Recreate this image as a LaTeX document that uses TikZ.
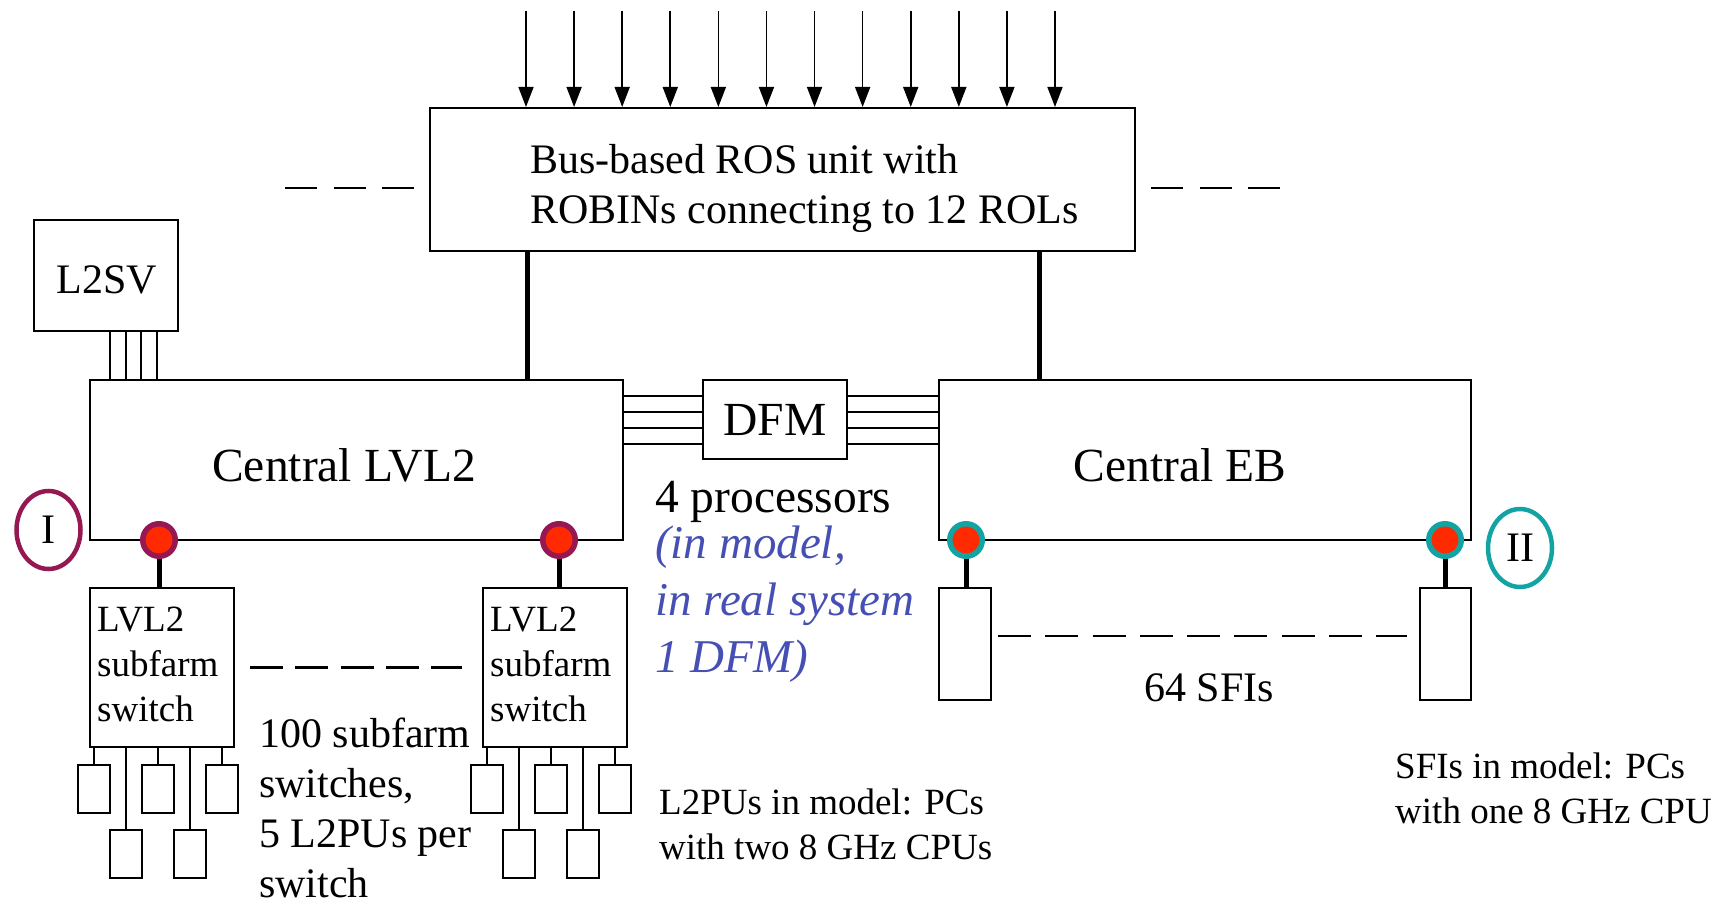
\documentclass[tikz,border=0pt]{standalone}
\usepackage{fontspec}
\setmainfont{Liberation Serif}
\usetikzlibrary{arrows.meta,calc,shapes.geometric}

\definecolor{ringI}{HTML}{961852}
\definecolor{ringII}{HTML}{14A3A3}
\definecolor{dotred}{HTML}{FF2A00}
\definecolor{noteblue}{HTML}{4650B4}

\tikzset{
  box/.style={draw, line width=2pt, inner sep=0pt, fill=white},
  pubox/.style={box, minimum width=32, minimum height=48},
  thinlink/.style={line width=1.8pt},
  thicklink/.style={line width=5pt},
  rolarrow/.style={line width=1.6pt, -{Triangle[length=20pt,width=15pt]}},
  dashrow/.style={line width=2.2pt, dash pattern=on 33pt off 13pt},
  portI/.style={circle, draw=ringI, fill=dotred, line width=5.5pt, minimum size=32.5, inner sep=0pt},
  portII/.style={circle, draw=ringII, fill=dotred, line width=5.5pt, minimum size=32.5, inner sep=0pt},
  tag/.style={ellipse, draw, line width=4.5pt, minimum width=64, minimum height=78, inner sep=0pt,
              font=\fontsize{42}{50}\selectfont},
  big/.style={font=\fontsize{47.5}{55}\selectfont},
  mid/.style={font=\fontsize{42}{50}\selectfont},
  small/.style={font=\fontsize{37}{45}\selectfont},
  txt/.style={inner sep=0pt, align=left},
}

\begin{document}
\begin{tikzpicture}[x=1pt,y=-1pt]
\useasboundingbox (0,0) rectangle (1729,904);

% main boxes
\node[box, minimum width=705, minimum height=143] (ros)  at (782.5,179.5) {};
\node[box, minimum width=144, minimum height=111] (l2sv) at (106,275.5) {};
\node[box, minimum width=533, minimum height=160] (lvl2) at (356.5,460) {};
\node[box, minimum width=144, minimum height=79, big] (dfm) at (775,419.5) {DFM};
\node[box, minimum width=532, minimum height=160] (eb) at (1205,460) {};

% box captions
\node[txt, mid] (l2svtext) at (107,280) {L2SV};
\node[txt, mid, anchor=west] (rostext) at (530,188)
  {Bus-based ROS unit with\\ROBINs connecting to 12 ROLs};
\node[txt, big] (lvl2text) at (344,465) {Central LVL2};
\node[txt, big] (ebtext) at (1180,465) {Central EB};

% read-out links into the ROS unit
\foreach \i in {0,...,11} {
  \coordinate (rol\i) at ({526+48.09*\i},11);
  \draw[rolarrow] (rol\i) -- (rol\i |- ros.north);
}

% further ROS units on either side
\coordinate (rosdashL1) at ($(ros.west)+(-144,8.5)$);
\coordinate (rosdashL2) at ($(ros.west)+(-15,8.5)$);
\coordinate (rosdashR1) at ($(ros.east)+(15,8.5)$);
\coordinate (rosdashR2) at ($(ros.east)+(144,8.5)$);
\draw[line width=2.2pt, dash pattern=on 32pt off 16.5pt] (rosdashL1) -- (rosdashL2);
\draw[line width=2.2pt, dash pattern=on 32pt off 16.5pt] (rosdashR1) -- (rosdashR2);

% ROS to central switches
\draw[thicklink] (ros.south -| 527,0) -- (lvl2.north -| 527,0);
\draw[thicklink] (ros.south -| 1039,0) -- (eb.north -| 1039,0);

% L2SV links
\foreach \x in {110,126,141,157}
  \draw[thinlink] (l2sv.south -| \x,0) -- (lvl2.north -| \x,0);

% DFM links
\foreach \y in {396,412,428,444} {
  \draw[thinlink] (lvl2.east |- 0,\y) -- (dfm.west |- 0,\y);
  \draw[thinlink] (dfm.east |- 0,\y) -- (eb.west |- 0,\y);
}

% LVL2 subfarm switches
\node[box, minimum width=144, minimum height=159] (swA) at (162,667.5) {};
\node[box, minimum width=144, minimum height=159] (swB) at (555,667.5) {};
\foreach \s in {swA,swB}
  \node[txt, small, anchor=north west] (\s-text) at ($(\s.north west)+(8,19.5)$)
    {LVL2\\subfarm\\switch};

\draw[dashrow, dash pattern=on 33pt off 12.25pt] ($(swA.east)+(15,0)$) coordinate (swdash1)
  -- ($(swB.west)+(-20,0)$) coordinate (swdash2);

% L2PUs below each switch
\foreach \s in {swA,swB} {
  \foreach \i/\dx/\dy in {1/5/41,2/37/105.5,3/69/41,4/101/105.5,5/133/41} {
    \node[pubox] (\s-pu\i) at ($(\s.south west)+(\dx,\dy)$) {};
    \draw[thinlink] (\s.south -| \s-pu\i) -- (\s-pu\i.north);
  }
}

% SFIs
\node[box, minimum width=52, minimum height=112] (sfiA) at (965,644) {};
\node[box, minimum width=51, minimum height=112] (sfiB) at (1445.5,644) {};
\draw[line width=2.2pt, dash pattern=on 33pt off 14.25pt]
  ($(sfiA.east)+(6,-8)$) coordinate (sfidash1) -- ($(sfiB.west)+(-12,-8)$) coordinate (sfidash2);

% ports and their links
\coordinate (pA) at (159,540);
\coordinate (pB) at (559,540);
\coordinate (pC) at (966,540);
\coordinate (pD) at (1445,540);
\draw[thicklink] (pA) -- (pA |- swA.north);
\draw[thicklink] (pB) -- (pB |- swB.north);
\draw[thicklink] (pC) -- (pC |- sfiA.north);
\draw[thicklink] (pD) -- (pD |- sfiB.north);
\node[portI]  (portA) at (pA) {};
\node[portI]  (portB) at (pB) {};
\node[portII] (portC) at (pC) {};
\node[portII] (portD) at (pD) {};

% measurement point tags
\node[tag, draw=ringI]  (tagI)  at (48.5,530) {I};
\node[tag, draw=ringII] (tagII) at (1520,548) {II};

% annotations
\node[txt, big, anchor=base west] (dfmnote) at (655,512) {4 processors};
\node[txt, font=\fontsize{47}{57}\selectfont\itshape, text=noteblue, anchor=north west] (dfmmodel)
  at (655,526) {(in model,\\in real system\\1 DFM)};
\node[txt, mid, anchor=north west] (swnote) at (259,718)
  {100 subfarm\\switches,\\5 L2PUs per\\switch};
\node[txt, small, anchor=north west] (punote) at (659,789)
  {L2PUs in model: PCs\\with two 8 GHz CPUs};
\node[txt, mid, anchor=base west] (sfinote) at (1144,701) {64 SFIs};
\node[txt, small, anchor=north west] (sfimodel) at (1395,753)
  {SFIs in model: PCs\\with one 8 GHz CPU};
\end{tikzpicture}
\end{document}
